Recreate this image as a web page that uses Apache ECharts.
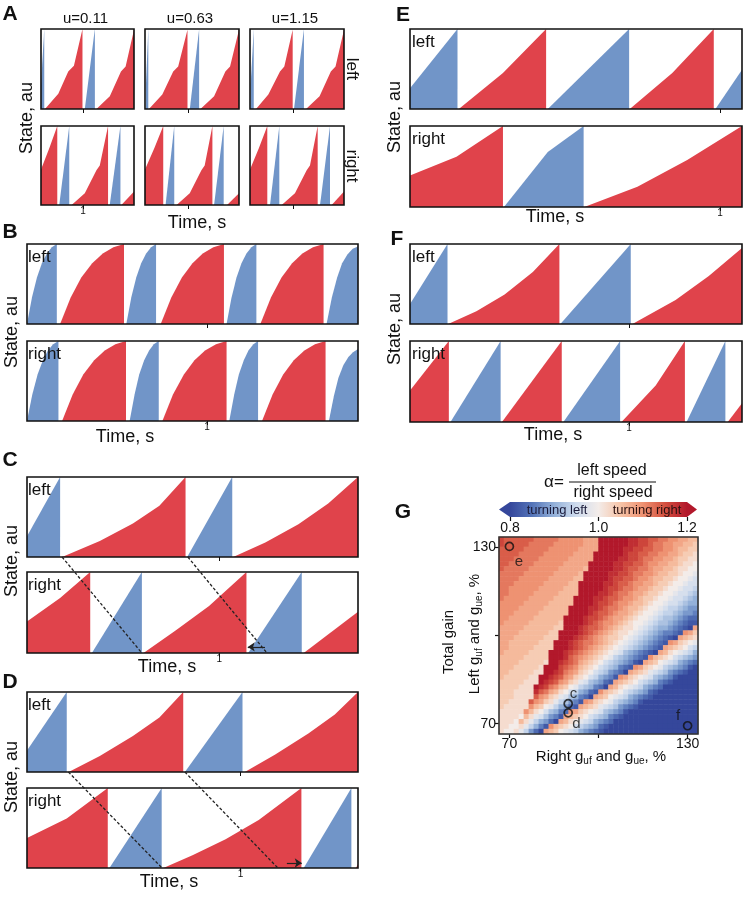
<!DOCTYPE html>
<html><head><meta charset="utf-8">
<script src="https://cdn.jsdelivr.net/npm/echarts@6/dist/echarts.min.js"></script>
<style>html,body{margin:0;padding:0;background:#fff}#c{width:744px;height:897px}</style>
</head><body><div id="c"></div>
<script>
// ================= DATA =================
// Each segment: list of [time fraction of window, state fraction]
// Panel A (three input levels, left/right)
const aColumnTitles = ['u=0.11', 'u=0.63', 'u=1.15'];
const aTick = [0.452, 0.457, 0.457];
const aLeftRed = [
  [[[0.043,0],[0.186,0.19],[0.293,0.47],[0.354,0.54],[0.446,1]], [[0.596,0],[0.74,0.16],[0.86,0.47],[0.91,0.53],[1.0,0.99]]],
  [[[0.042,0],[0.184,0.18],[0.3,0.47],[0.353,0.53],[0.452,0.99]], [[0.59,0],[0.735,0.16],[0.855,0.47],[0.905,0.53],[1.0,0.99]]],
  [[[0.064,0],[0.195,0.18],[0.319,0.47],[0.365,0.53],[0.454,0.99]], [[0.596,0],[0.74,0.16],[0.86,0.47],[0.91,0.53],[1.0,0.99]]]
];
const aLeftBlue = [
  [[[0,0.3],[0.035,1]], [[0.471,0],[0.579,1]]],
  [[[0.01,0.3],[0.035,1]], [[0.477,0],[0.576,1]]],
  [[[0.007,0.3],[0.04,1]], [[0.468,0],[0.574,1]]]
];
const aRightRed = [
  [[[0,0.45],[0.09,0.72],[0.175,1]], [[0.329,0],[0.471,0.15],[0.596,0.44],[0.632,0.5],[0.721,1]], [[0.864,0],[1,0.17]]],
  [[[0,0.45],[0.1,0.72],[0.194,1]], [[0.336,0],[0.476,0.15],[0.6,0.44],[0.635,0.5],[0.717,1]], [[0.873,0],[1,0.15]]],
  [[[0,0.45],[0.095,0.72],[0.184,1]], [[0.337,0],[0.478,0.15],[0.603,0.44],[0.638,0.5],[0.72,1]], [[0.869,0],[1,0.17]]]
];
const aRightBlue = [
  [[[0.196,0],[0.304,1]], [[0.739,0],[0.854,1]]],
  [[[0.219,0],[0.311,1]], [[0.735,0],[0.837,1]]],
  [[[0.213,0],[0.312,1]], [[0.745,0],[0.851,1]]]
];
// Panel B
const bTick = 0.544;
const bLeftBlue = [
  [[0,0],[0.015,0.33],[0.03,0.58],[0.045,0.76],[0.06,0.88],[0.075,0.96],[0.09,1]],
  [[0.30,0],[0.315,0.33],[0.33,0.58],[0.345,0.76],[0.36,0.88],[0.375,0.96],[0.39,1]],
  [[0.603,0],[0.618,0.33],[0.633,0.58],[0.648,0.76],[0.663,0.88],[0.678,0.96],[0.693,1]],
  [[0.905,0],[0.921,0.33],[0.937,0.58],[0.952,0.76],[0.968,0.87],[0.984,0.94],[1.0,0.97]]
];
const bLeftRed = [
  [[0.1,0],[0.132,0.33],[0.164,0.58],[0.197,0.76],[0.229,0.88],[0.261,0.96],[0.293,1]],
  [[0.404,0],[0.436,0.33],[0.468,0.58],[0.5,0.76],[0.531,0.88],[0.563,0.96],[0.595,1]],
  [[0.705,0],[0.737,0.33],[0.769,0.58],[0.801,0.76],[0.832,0.88],[0.864,0.96],[0.896,1]]
];
const bRightBlue = [
  [[0,0],[0.016,0.33],[0.032,0.58],[0.048,0.76],[0.063,0.88],[0.079,0.96],[0.095,1]],
  [[0.31,0],[0.325,0.33],[0.339,0.58],[0.354,0.76],[0.369,0.88],[0.383,0.96],[0.398,1]],
  [[0.611,0],[0.626,0.33],[0.64,0.58],[0.655,0.76],[0.669,0.88],[0.684,0.96],[0.698,1]],
  [[0.912,0],[0.927,0.31],[0.941,0.54],[0.956,0.7],[0.971,0.8],[0.985,0.86],[1.0,0.9]]
];
const bRightRed = [
  [[0.106,0],[0.138,0.33],[0.17,0.58],[0.203,0.76],[0.235,0.88],[0.267,0.96],[0.299,1]],
  [[0.409,0],[0.441,0.33],[0.474,0.58],[0.506,0.76],[0.538,0.88],[0.571,0.96],[0.603,1]],
  [[0.71,0],[0.742,0.33],[0.774,0.58],[0.806,0.76],[0.838,0.88],[0.87,0.96],[0.902,1]]
];
// Panel C
const cTick = 0.581;
const cLeftBlue = [[[0,0.26],[0.1,1]], [[0.484,0],[0.62,1]]];
const cLeftRed = [[[0.106,0],[0.22,0.2],[0.32,0.42],[0.4,0.64],[0.479,1]], [[0.623,0],[0.72,0.18],[0.82,0.41],[0.91,0.67],[1,1]]];
const cRightRed = [[[0,0.39],[0.1,0.68],[0.191,1]], [[0.352,0],[0.45,0.28],[0.55,0.58],[0.663,1]], [[0.836,0],[1,0.51]]];
const cRightBlue = [[[0.196,0],[0.347,1]], [[0.668,0],[0.83,1]]];
const cLinks = [[0.106,0.347],[0.486,0.725]];
const cArrow = [[0.719,0.075],[0.667,0.075]];
// Panel D
const dTick = 0.645;
const dLeftBlue = [[[0,0.27],[0.12,1]], [[0.477,0],[0.651,1]]];
const dLeftRed = [[[0.126,0],[0.22,0.2],[0.32,0.45],[0.4,0.68],[0.472,1]], [[0.658,0],[0.75,0.22],[0.85,0.48],[0.93,0.72],[1,1]]];
const dRightRed = [[[0,0.375],[0.12,0.62],[0.244,1]], [[0.412,0],[0.5,0.16],[0.6,0.36],[0.7,0.6],[0.829,1]], [[0.994,0],[1,0.05]]];
const dRightBlue = [[[0.249,0],[0.407,1]], [[0.836,0],[0.98,1]]];
const dLinks = [[0.125,0.408],[0.477,0.758]];
const dArrow = [[0.785,0.0625],[0.83,0.0625]];
// Panel E
const eTick = 0.934;
const eLeftBlue = [[[0,0.26],[0.143,1]], [[0.415,0],[0.66,1]], [[0.92,0],[1,0.49]]];
const eLeftRed = [[[0.147,0],[0.28,0.45],[0.41,1]], [[0.662,0],[0.79,0.45],[0.915,1]]];
const eRightRed = [[[0,0.39],[0.14,0.62],[0.28,1]], [[0.525,0],[0.685,0.25],[0.835,0.58],[1,1]]];
const eRightBlue = [[[0.283,0],[0.415,0.68],[0.523,1]]];
// Panel F
const fTick = 0.66;
const fLeftBlue = [[[0,0.25],[0.113,1]], [[0.453,0],[0.665,1]]];
const fLeftRed = [[[0.115,0],[0.2,0.16],[0.285,0.37],[0.37,0.65],[0.45,1]], [[0.67,0],[0.8,0.3],[0.9,0.6],[1,0.95]]];
const fRightRed = [[[0,0.39],[0.117,1]], [[0.277,0],[0.457,1]], [[0.637,0],[0.74,0.45],[0.828,1]], [[0.957,0],[1,0.23]]];
const fRightBlue = [[[0.122,0],[0.273,1]], [[0.462,0],[0.633,1]], [[0.833,0],[0.95,1]]];
// Panel G: alpha map, rows top (130%) to bottom (70%), letters a=0.80 ... u=1.20 in 0.02 steps
const gRange = [66.5, 133.5];
const gTicks = [70, 100, 130];
const gTickLabels = [70, 130];
const gHeatRows = [
"srrrrrrqqqqqpppppooouuuuuuttssrrqqppoonn",
"srrrrrqqqqqppppppooouuuuuuttssrqqppoonnm",
"rrrrrqqqqqppppppoooouuuuuttssrrqqpponnmm",
"rrrrqqqqqppppppoooouuuuuutssrrqqppoonmml",
"rrrqqqqqppppppooooouuuuuttssrqqppoonmmll",
"rrqqqqqppppppooooouuuuuttssrrqppoonnmllk",
"rqqqqqppppppooooonuuuuuttsrrqqpoonnmllkk",
"qqqqqppppppooooonuuuuuttssrqqpponnmmlkkj",
"qqqqppppppooooonnuuuuutssrrqpponnmmlkkji",
"qqqppppppooooonnuuuuuttsrrqppoonmmlkkjii",
"qqppppppooooonnnuuuuutssrqqpoonmmlkkjiih",
"qqpppppooooonnnnuuuuttsrqqpoonmmlkkjiihg",
"qpppppooooonnnnuuuuttsrrqpponmmlkkjiihgf",
"pppppooooonnnnnuuuutssrqpponnmlkkjiihgff",
"ppppooooonnnnnuuuuttsrqqponnmlkkjihhgfee",
"pppooooonnnnnnuuuutsrrqpoonmlkkjihhgfeed",
"ppooooonnnnnnuuuutssrqpoonmlkkjihggfedcc",
"pooooonnnnnnmuuuutsrqpponmlkkjihggfedcbb",
"ooooonnnnnnmmuuutsrrqponmllkjihgffedcbao",
"oooonnnnnnmmuuuutsrqponmllkjihgfeddcbpom",
"ooonnnnnnmmmuuutsrqponmmlkjihgfedcbaonml",
"oonnnnnnmmmuuutsrqqponmlkjihgfedcbpomlkj",
"oonnnnnmmmmuuutsrqponmlkjihgfedcbonmlkih",
"onnnnnmmmmuuutsrqponmlkjigfedcbaonlkjihf",
"nnnnnmmmmmuuutrqponmlkjhgfedcbpnmlkihgfe",
"nnnnmmmmmluutsrqonmlkihgfedbaonmkjihfedc",
"nnnmmmmmluuusrqpnmlkihgfdcbpomlkjhgfedba",
"nnmmmmmlluutsqpomlkihgedcaonmljihgedcbaa",
"nmmmmmlluutsrpomlkihfedbpomlkjigfedbaaaa",
"mmmmmlllutsrpomljigfecbonmlkihgfdcbaaaaa",
"mmmmlllutsqpnmkjhgfdcaonlkjihfedcaaaaaaa",
"mmmlllltrqonlkihfecbpnmlkihgfecbaaaaaaaa",
"mmmllllrpomljigfdcaonmkjihfedcbaaaaaaaaa",
"mmllllrpomljhgedbpomlkjhgfedbaaaaaaaaaaa",
"mlllllpnmkjhfecbonmljihgedcbaaaaaaaaaaaa",
"lllllpnlkigfdcpomlkjigfedbaaaaaaaaaaaaaa",
"llllknljigedbonmlkihgfdcbaaaaaaaaaaaaaaa",
"lllknljhfecaonlkjihfedcaaaaaaaaaaaaaaaaa",
"llkkljhfdbpnmlkihgfecbaaaaaaaaaaaaaaaaaa",
"lkkljhecaonmkjihfedcbaaaaaaaaaaaaaaaaaaa"
];
const gMarkers = [[70,130.3],[89.8,76.8],[89.8,73.7],[130,69.3]];
const gMarkerNames = ['e','c','d','f'];
const gMarkerNamePos = [[73.2,125],[91.6,80.3],[92.6,70],[126.8,72.6]];
const cbarTicks = [0.8, 1.0, 1.2];

// ================= STYLE / LAYOUT =================
const RED = '#E0434B', BLUE = '#7195C8', INK = '#111';
const FONT = "'Liberation Sans', Arial, sans-serif";
const HEAT_COLORS = ['#35479b','#5474b8','#94b1d9','#cfdcee','#f3ece9','#f7c4a7','#ee9272','#d4503f','#b2182b'];

const grids = [], xAxes = [], yAxes = [], series = [], graphics = [];
let gid = 0;
function seg(gi, data, color) {
  return {type:'line', xAxisIndex:gi, yAxisIndex:gi, data:data, showSymbol:false, symbol:'none', smooth:false,
    lineStyle:{width:0}, areaStyle:{color:color, opacity:1}, silent:true, animation:false, z:2};
}
function addRow(box, reds, blues, tick, showLabel) {
  const gi = grids.length;
  grids.push({left:box[0], top:box[1], width:box[2], height:box[3], show:true, borderColor:INK, borderWidth:1.6, backgroundColor:'transparent', z:5});
  xAxes.push({type:'value', gridIndex:gi, min:0, max:1, axisLine:{show:false}, splitLine:{show:false},
    axisTick:{show:true, customValues:[tick], length:4, lineStyle:{color:INK, width:1}},
    axisLabel:{show:showLabel, customValues:[tick], formatter:function(){return '1';}, fontSize:10, color:INK, margin:1, fontFamily:FONT}});
  yAxes.push({type:'value', gridIndex:gi, min:0, max:1, show:false});
  reds.forEach(s => series.push(seg(gi, s, RED)));
  blues.forEach(s => series.push(seg(gi, s, BLUE)));
  return gi;
}
function txt(x, y, text, o) {
  o = o || {};
  graphics.push({type:'text', id:'t'+(gid++), x:x, y:y, rotation:o.rot||0, z:50, silent:true,
    style:{text:text, fontSize:o.size||16, fontFamily:FONT, fontWeight:o.bold?'bold':'normal', fill:o.color||INK,
      textAlign:o.align||'center', align:o.align||'center', textVerticalAlign:'middle', verticalAlign:'middle', rich:o.rich}});
}
const R90 = Math.PI/2;

// ---- Panel A ----
const aX = [41,145,250], aW = [93,94,94];
for (let k = 0; k < 3; k++) {
  addRow([aX[k],29,aW[k],80], aLeftRed[k], aLeftBlue[k], aTick[k], false);
  addRow([aX[k],126,aW[k],79], aRightRed[k], aRightBlue[k], aTick[k], k === 0);
  txt(aX[k] + aW[k]/2 - 2, 19, aColumnTitles[k], {size:15});
}
txt(10, 14, 'A', {size:21, bold:true});
txt(352, 69, 'left', {size:17, rot:-R90});
txt(352, 166, 'right', {size:17, rot:-R90});
txt(27, 118, 'State, au', {size:18, rot:R90});
txt(197, 223, 'Time, s', {size:18});

// ---- Panels B-F ----
function twoRow(letter, lp, x, w, tops, hs, lr, lb, rr, rb, tick, stateXY, timeXY, labX) {
  const g1 = addRow([x,tops[0],w,hs[0]], lr, lb, tick, false);
  const g2 = addRow([x,tops[1],w,hs[1]], rr, rb, tick, true);
  txt(lp[0], lp[1], letter, {size:21, bold:true});
  txt(labX, tops[0]+13, 'left', {size:17, align:'left'});
  txt(labX, tops[1]+13, 'right', {size:17, align:'left'});
  txt(stateXY[0], stateXY[1], 'State, au', {size:18, rot:R90});
  txt(timeXY[0], timeXY[1], 'Time, s', {size:18});
  return [g1, g2];
}
const gB = twoRow('B', [10,232], 27, 331, [244,341], [80,80], bLeftRed, bLeftBlue, bRightRed, bRightBlue, bTick, [12,332], [125,437], 28);
const gC = twoRow('C', [10,460], 27, 331, [477,572], [80,81], cLeftRed, cLeftBlue, cRightRed, cRightBlue, cTick, [12,561], [167,667], 28);
const gD = twoRow('D', [10,682], 27, 331, [692,788], [80,80], dLeftRed, dLeftBlue, dRightRed, dRightBlue, dTick, [12,777], [169,882], 28);
const gE = twoRow('E', [403,15], 410, 332, [29,126], [80,81], eLeftRed, eLeftBlue, eRightRed, eRightBlue, eTick, [395,117], [555,217], 412);
const gF = twoRow('F', [397,239], 410, 332, [244,341], [80,81], fLeftRed, fLeftBlue, fRightRed, fRightBlue, fTick, [395,329], [553,435], 412);

function arrow(gi, pts) {
  series.push({type:'line', xAxisIndex:gi, yAxisIndex:gi, data:[], silent:true, animation:false, z:20,
    markLine:{silent:true, animation:false, symbol:['none','arrow'], symbolSize:7, label:{show:false},
      lineStyle:{color:'#222', width:1.2, type:'solid'},
      data:[[{coord:pts[0]},{coord:pts[1]}]]}});
}
arrow(gC[1], cArrow);
arrow(gD[1], dArrow);

// ---- Panel G ----
const N = gHeatRows.length;
const heatData = [];
gHeatRows.forEach((row, r) => {
  const j = N - 1 - r;
  for (let i = 0; i < N; i++) {
    const ch = row[Math.min(i, row.length - 1)];
    heatData.push([i, j, 0.8 + 0.02 * (ch.charCodeAt(0) - 97)]);
  }
});
const cats = Array.from({length:N}, (_, i) => i);
const GB = [499, 537, 199, 197];
const gHeat = grids.length;
grids.push({left:GB[0], top:GB[1], width:GB[2], height:GB[3], show:false});
xAxes.push({type:'category', gridIndex:gHeat, data:cats, show:false});
yAxes.push({type:'category', gridIndex:gHeat, data:cats, show:false});
const heatSeriesIndex = series.length;
series.push({type:'heatmap', xAxisIndex:gHeat, yAxisIndex:gHeat, data:heatData, silent:true, animation:false,
  itemStyle:{borderWidth:0}, emphasis:{disabled:true}, progressive:0, z:1});
const gOver = grids.length;
grids.push({left:GB[0], top:GB[1], width:GB[2], height:GB[3], show:true, borderColor:'#333', borderWidth:1.6, backgroundColor:'transparent', z:5});
const gAxisCommon = {type:'value', gridIndex:gOver, min:gRange[0], max:gRange[1], axisLine:{show:false}, splitLine:{show:false},
  axisTick:{show:true, customValues:gTicks, length:4, lineStyle:{color:INK, width:1.2}},
  axisLabel:{customValues:gTickLabels, fontSize:14, color:INK, margin:3, fontFamily:FONT}};
xAxes.push(Object.assign({}, gAxisCommon));
yAxes.push(Object.assign({}, gAxisCommon));
series.push({type:'scatter', xAxisIndex:gOver, yAxisIndex:gOver, data:gMarkers, symbol:'circle', symbolSize:8,
  itemStyle:{color:'rgba(0,0,0,0)', borderColor:INK, borderWidth:1.7}, silent:true, animation:false, z:10});
series.push({type:'scatter', xAxisIndex:gOver, yAxisIndex:gOver, symbolSize:0, silent:true, animation:false, z:11,
  data:gMarkerNamePos.map((p, k) => ({value:p, name:gMarkerNames[k]})),
  label:{show:true, position:'inside', formatter:'{b}', fontSize:15, color:INK, fontFamily:FONT}});

// colorbar axis
const gCb = grids.length;
grids.push({left:510, top:502, width:177, height:15, show:false});
xAxes.push({type:'value', gridIndex:gCb, min:0.8, max:1.2, axisLine:{show:false}, splitLine:{show:false},
  axisTick:{show:true, customValues:cbarTicks, length:4, lineStyle:{color:INK, width:1.2}},
  axisLabel:{customValues:cbarTicks, formatter:function(v){return v.toFixed(1);}, fontSize:14, color:INK, margin:4, fontFamily:FONT}});
yAxes.push({type:'value', gridIndex:gCb, min:0, max:1, show:false});

const stops = HEAT_COLORS.map((c, k) => ({offset:k/(HEAT_COLORS.length-1), color:c}));
graphics.push({type:'polygon', id:'cbar', z:20, silent:true,
  shape:{points:[[499,509.5],[510,502],[687,502],[697,509.5],[687,517],[510,517]]},
  style:{fill:{type:'linear', x:510, y:0, x2:687, y2:0, global:true, colorStops:stops}}});
txt(557, 510, 'turning left', {size:13, color:'#1b1b3a'});
txt(647, 510, 'turning right', {size:13, color:'#2a1010'});
txt(403, 512, 'G', {size:21, bold:true});
txt(554, 482, 'α=', {size:17});
txt(612, 471, 'left speed', {size:16});
txt(613, 493, 'right speed', {size:16});
graphics.push({type:'line', id:'fracline', z:20, silent:true, shape:{x1:569, y1:482, x2:656, y2:482}, style:{stroke:INK, lineWidth:1.2}});
const subRich = {a:{fontSize:15, fontFamily:FONT, fill:INK, color:INK}, s:{fontSize:10, fontFamily:FONT, padding:[9,0,0,0], fill:INK, color:INK}};
txt(601, 757, '{a|Right g}{s|uf}{a| and g}{s|ue}{a|, %}', {size:15, rich:subRich});
txt(449, 642, 'Total gain', {size:15, rot:R90});
txt(475, 634, '{a|Left g}{s|uf}{a| and g}{s|ue}{a|, %}', {size:15, rot:R90, rich:subRich});

// ================= RENDER =================
const chart = echarts.init(document.getElementById('c'), null, {renderer:'canvas'});
chart.setOption({
  animation:false,
  backgroundColor:'#fff',
  textStyle:{fontFamily:FONT},
  grid:grids, xAxis:xAxes, yAxis:yAxes, series:series,
  visualMap:[{type:'continuous', min:0.8, max:1.2, seriesIndex:heatSeriesIndex, show:false, inRange:{color:HEAT_COLORS}}],
  graphic:graphics
});
const extra = [];
function links(gL, gR, list, prefix) {
  list.forEach((l, k) => {
    const p1 = chart.convertToPixel({gridIndex:gL}, [l[0], 0]);
    const p2 = chart.convertToPixel({gridIndex:gR}, [l[1], 0]);
    extra.push({type:'line', id:prefix+k, z:60, silent:true, shape:{x1:p1[0], y1:p1[1], x2:p2[0], y2:p2[1]},
      style:{stroke:'#222', lineWidth:1.3, lineDash:[3,2]}});
  });
}
links(gC[0], gC[1], cLinks, 'cl');
links(gD[0], gD[1], dLinks, 'dl');
chart.setOption({graphic:extra});
</script>
</body></html>
